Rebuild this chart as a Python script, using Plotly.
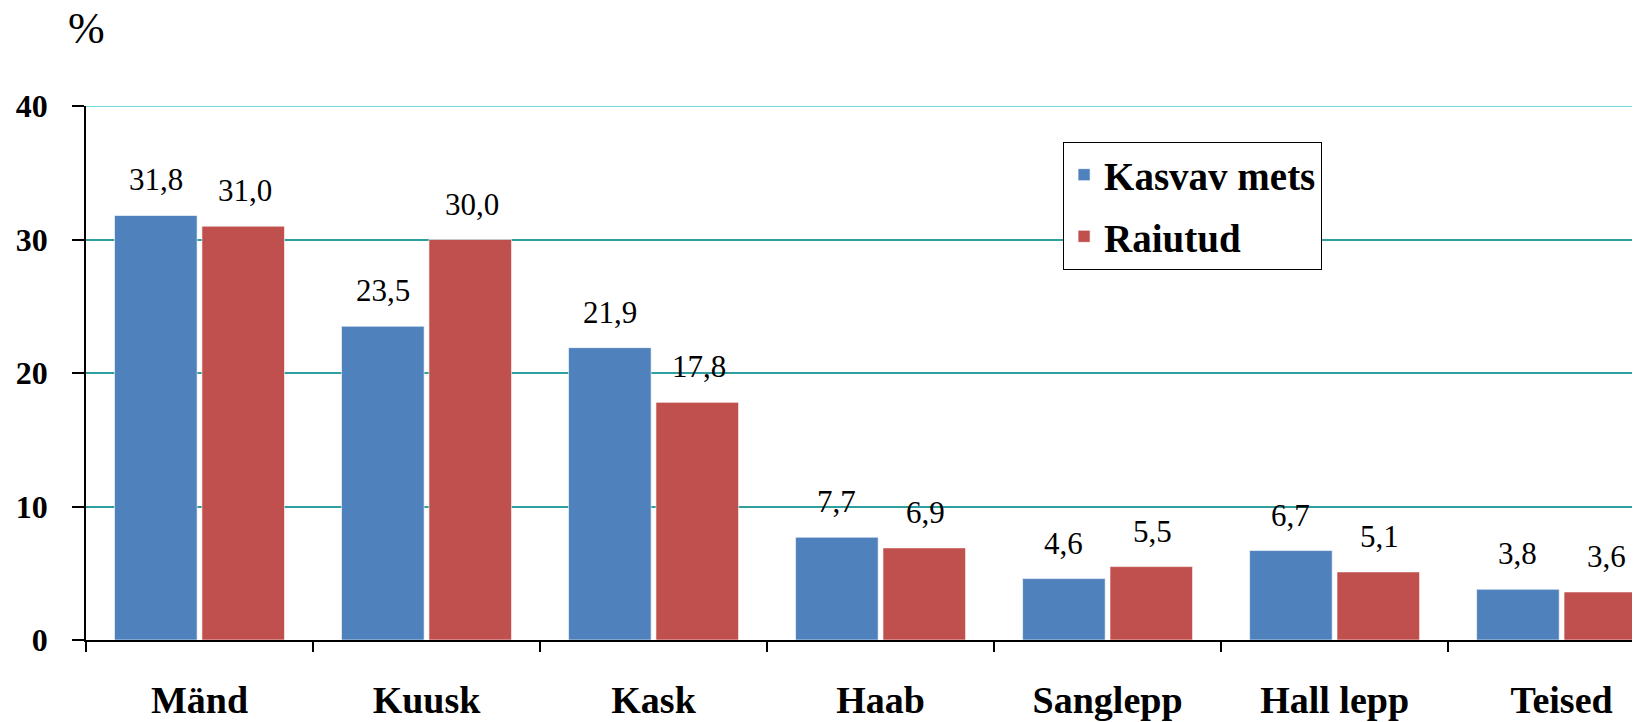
import plotly.graph_objects as go

species = ["Mänd", "Kuusk", "Kask", "Haab", "Sanglepp", "Hall lepp", "Teised"]
kasvav_mets = [31.8, 23.5, 21.9, 7.7, 4.6, 6.7, 3.8]
raiutud = [31.0, 30.0, 17.8, 6.9, 5.5, 5.1, 3.6]
y_ticks = [0, 10, 20, 30, 40]

SERIF = "Liberation Serif, Times New Roman, serif"
BLUE = "#4F81BD"
RED = "#C0504D"

fig = go.Figure()
series = [("Kasvav mets", kasvav_mets, BLUE, -44), ("Raiutud", raiutud, RED, 45)]
for name, values, color, shift in series:
    fig.add_trace(
        go.Bar(
            x=species,
            y=values,
            name=name,
            legendgroup=name,
            marker=dict(color=color, line=dict(color="rgba(255,255,255,0.6)", width=1)),
        )
    )
    # value labels sit well above the bars, comma as decimal mark
    for cat, v in zip(species, values):
        fig.add_annotation(
            x=cat, y=v, xref="x", yref="y",
            text=f"{v:.1f}".replace(".", ","),
            showarrow=False, xanchor="center", yanchor="bottom",
            xshift=shift, yshift=16,
            font=dict(family=SERIF, size=31, color="black"),
        )

fig.add_shape(
    type="line", xref="paper", yref="y", x0=0, x1=1, y0=40, y1=40,
    line=dict(color="#6EDCDC", width=2), layer="below",
)

fig.add_annotation(
    text="%", xref="paper", yref="paper", x=0, y=1, xanchor="center", yanchor="middle",
    xshift=0, yshift=78,
    showarrow=False, font=dict(family=SERIF, size=44, color="black"),
)

fig.update_layout(
    width=1645,
    height=722,
    plot_bgcolor="white",
    paper_bgcolor="white",
    margin=dict(l=86, r=13, t=106, b=82, autoexpand=False),
    bargap=0.23,
    bargroupgap=0.055,
    legend=dict(
        x=0.632, y=0.933, xanchor="left", yanchor="top",
        bgcolor="white", bordercolor="black", borderwidth=1,
        font=dict(family=SERIF, size=39, color="black", weight="bold"),
        traceorder="grouped", tracegroupgap=8,
        itemwidth=30,
    ),
)

fig.update_xaxes(
    range=[-0.5, 6.31],
    automargin=False,
    showline=True, linecolor="black", linewidth=1.5,
    ticks="outside", tickson="boundaries", ticklen=10, tickcolor="black", tickwidth=1.5,
    ticklabelstandoff=26,
    tickfont=dict(family=SERIF, size=38, color="black", weight="bold"),
    showgrid=False,
)
fig.update_yaxes(
    range=[0, 40],
    automargin=False,
    tickvals=y_ticks,
    showline=True, linecolor="black", linewidth=1.5,
    ticks="outside", ticklen=12, tickcolor="black", tickwidth=1.5,
    ticklabelstandoff=18,
    tickfont=dict(family=SERIF, size=32, color="black", weight="bold"),
    showgrid=True, gridcolor="#2F9E9E", gridwidth=1.5,
    zeroline=False,
)

fig.write_html(
    "out.html",
    config={"displayModeBar": False},
    post_script="document.body.style.margin='0';",
)
